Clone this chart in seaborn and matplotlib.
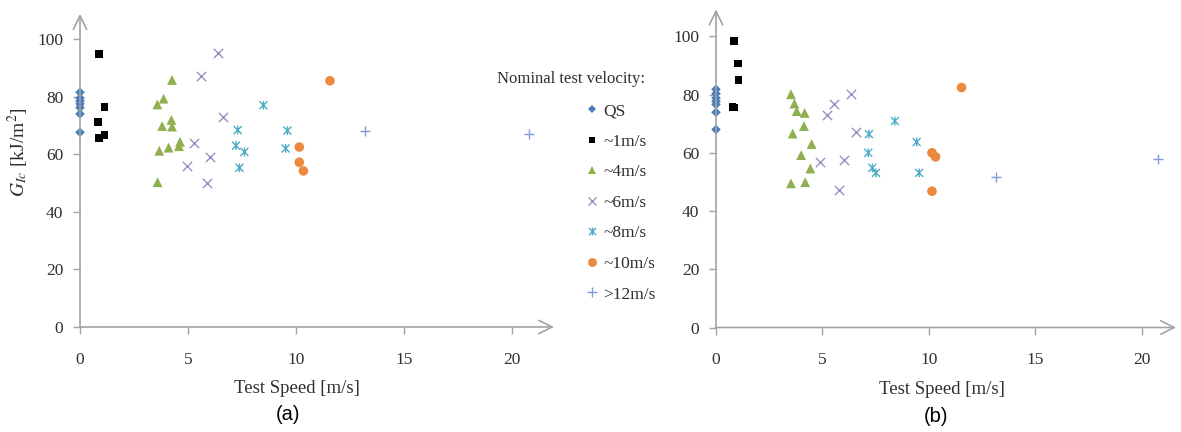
import matplotlib
matplotlib.use("Agg")
import matplotlib.pyplot as plt
from matplotlib.lines import Line2D
from matplotlib.path import Path
import seaborn as sns
import pandas as pd

# ---- data: (a) ----
qs_a_x = [0, 0, 0, 0, 0, 0, 0]
qs_a_y = [81.5, 79.5, 78.5, 77.5, 76.2, 74.0, 67.6]
v1_a_x = [0.88, 1.13, 0.82, 0.89, 1.13]
v1_a_y = [94.8, 76.5, 71.2, 65.7, 66.7]
v4_a_x = [4.26, 3.87, 3.58, 4.23, 4.26, 3.80, 4.63, 4.58, 4.10, 3.67, 3.59]
v4_a_y = [85.8, 79.3, 77.3, 71.9, 69.6, 69.8, 64.3, 62.8, 62.3, 61.2, 50.3]
v6_a_x = [6.40, 5.60, 6.63, 5.26, 6.02, 4.94, 5.86]
v6_a_y = [95.0, 87.2, 72.8, 63.8, 59.1, 55.9, 50.1]
v8_a_x = [8.49, 7.30, 9.60, 7.22, 7.61, 9.52, 7.38]
v8_a_y = [77.0, 68.4, 68.2, 63.0, 60.8, 62.0, 55.3]
v10_a_x = [11.57, 10.15, 10.15, 10.34]
v10_a_y = [85.5, 62.5, 57.2, 54.2]
v12_a_x = [13.19, 20.80]
v12_a_y = [68.1, 67.0]

# ---- data: (b) ----
qs_b_x = [0, 0, 0, 0, 0, 0, 0]
qs_b_y = [81.8, 80.3, 78.8, 77.7, 76.6, 73.9, 68.0]
v1_b_x = [0.85, 1.03, 1.06, 0.78, 0.85]
v1_b_y = [98.4, 90.6, 84.9, 75.8, 75.5]
v4_b_x = [3.52, 3.68, 3.79, 4.16, 4.13, 3.60, 4.49, 4.00, 4.43, 3.52, 4.19]
v4_b_y = [80.1, 76.9, 74.3, 73.7, 69.2, 66.6, 63.0, 59.2, 54.6, 49.5, 49.9]
v6_b_x = [6.32, 5.54, 5.21, 6.56, 6.01, 4.88, 5.79]
v6_b_y = [80.3, 76.6, 73.0, 67.2, 57.5, 56.7, 47.2]
v8_b_x = [8.40, 7.18, 9.42, 7.15, 7.34, 7.51, 9.54]
v8_b_y = [70.9, 66.4, 63.7, 60.0, 54.8, 53.1, 53.1]
v10_b_x = [11.53, 10.14, 10.31, 10.14]
v10_b_y = [82.4, 60.0, 58.6, 46.8]
v12_b_x = [13.13, 20.74]
v12_b_y = [51.7, 57.7]

groups = ["QS", "~1m/s", "~4m/s", "~6m/s", "~8m/s", "~10m/s", ">12m/s"]
x_ticks = [0, 5, 10, 15, 20]
y_ticks = [0, 20, 40, 60, 80, 100]

panel_a = [(qs_a_x, qs_a_y), (v1_a_x, v1_a_y), (v4_a_x, v4_a_y), (v6_a_x, v6_a_y),
           (v8_a_x, v8_a_y), (v10_a_x, v10_a_y), (v12_a_x, v12_a_y)]
panel_b = [(qs_b_x, qs_b_y), (v1_b_x, v1_b_y), (v4_b_x, v4_b_y), (v6_b_x, v6_b_y),
           (v8_b_x, v8_b_y), (v10_b_x, v10_b_y), (v12_b_x, v12_b_y)]

# asterisk marker: an X crossed by a vertical bar
star_path = Path(
    [(-1, -1), (1, 1), (-1, 1), (1, -1), (0, -1.1), (0, 1.1)],
    [Path.MOVETO, Path.LINETO, Path.MOVETO, Path.LINETO, Path.MOVETO, Path.LINETO],
)

# marker styles per group (s = scatter area, ms = legend marker size)
# kind: "fill" = solid shape, "line" = built-in line marker, "path" = custom outline
styles = {
    "QS":     dict(marker="D", color="#4a7ebb", s=24, ms=4.2, kind="fill", lw=0),
    "~1m/s":  dict(marker="s", color="#000000", s=30, ms=4.8, kind="fill", lw=0),
    "~4m/s":  dict(marker="^", color="#8fb04e", s=50, ms=6.0, kind="fill", lw=0),
    "~6m/s":  dict(marker="x", color="#a08cc2", s=45, ms=6.0, kind="line", lw=1.0),
    "~8m/s":  dict(marker=star_path, color="#4bacc6", s=40, ms=5.6, kind="path", lw=1.0),
    "~10m/s": dict(marker="o", color="#eb8a3e", s=48, ms=6.4, kind="fill", lw=0),
    ">12m/s": dict(marker="+", color="#7f9ed4", s=55, ms=6.5, kind="line", lw=1.0),
}

sns.set_theme(style="white")
plt.rcParams["font.family"] = ["Liberation Serif", "DejaVu Serif"]
plt.rcParams["mathtext.fontset"] = "stix"

fig = plt.figure(figsize=(11.81, 4.32), dpi=100)
ax_a = fig.add_axes([80 / 1181, 105 / 432, 474 / 1181, 313 / 432])
ax_b = fig.add_axes([716 / 1181, 104.5 / 432, 460 / 1181, 318 / 432])

axis_col = "#a3a3a3"
text_col = "#303030"


def draw_panel(ax, data, xmax, ymax):
    for name, (xs, ys) in zip(groups, data):
        st = styles[name]
        df = pd.DataFrame({"x": xs, "y": ys})
        if st["kind"] == "fill":
            sns.scatterplot(data=df, x="x", y="y", ax=ax, marker=st["marker"],
                            color=st["color"], s=st["s"], linewidth=0,
                            edgecolor="none", clip_on=False, zorder=3)
        elif st["kind"] == "line":
            sns.scatterplot(data=df, x="x", y="y", ax=ax, marker=st["marker"],
                            color=st["color"], s=st["s"], linewidth=st["lw"],
                            clip_on=False, zorder=3)
        else:
            sns.scatterplot(data=df, x="x", y="y", ax=ax, marker=st["marker"],
                            s=st["s"], linewidth=st["lw"], edgecolor=st["color"],
                            facecolor="none", clip_on=False, zorder=3)
    ax.set_xlim(0, xmax)
    ax.set_ylim(0, ymax)
    ax.set_xticks(x_ticks)
    ax.set_yticks(y_ticks)
    for sp in ax.spines.values():
        sp.set_visible(False)
    ax.tick_params(axis="both", direction="out", length=5, width=1,
                   color=axis_col, labelcolor=text_col, labelsize=12.5,
                   left=True, bottom=True)
    ax.tick_params(axis="x", pad=13)
    ax.tick_params(axis="y", pad=7)
    arrow = dict(arrowstyle="->,head_length=0.8,head_width=0.4",
                 color=axis_col, lw=1.2, shrinkA=0, shrinkB=0)
    ax.annotate("", xy=(1, 0), xytext=(0, 0), xycoords="axes fraction",
                textcoords="axes fraction", arrowprops=arrow, annotation_clip=False)
    ax.annotate("", xy=(0, 1), xytext=(0, 0), xycoords="axes fraction",
                textcoords="axes fraction", arrowprops=arrow, annotation_clip=False)
    ax.set_xlabel("Test Speed [m/s]", fontsize=13.5, color=text_col)
    ax.set_ylabel("")


draw_panel(ax_a, panel_a, 21.94, 108.7)
draw_panel(ax_b, panel_b, 21.6, 109.2)

ax_a.xaxis.set_label_coords((297 - 80) / 474, -0.169)
ax_b.xaxis.set_label_coords((942 - 716) / 460, -0.168)
ax_a.set_ylabel(r"$G_{Ic}$ [kJ/m$^2$]", fontsize=14, color=text_col)
ax_a.yaxis.set_label_coords((31 - 80) / 474, 0.56)

# legend
handles = []
for name in groups:
    st = styles[name]
    if st["kind"] == "fill":
        h = Line2D([], [], linestyle="none", marker=st["marker"], color=st["color"],
                   markersize=st["ms"], markeredgewidth=0)
    else:
        h = Line2D([], [], linestyle="none", marker=st["marker"], color=st["color"],
                   markerfacecolor="none", markeredgecolor=st["color"],
                   markersize=st["ms"], markeredgewidth=st["lw"])
    handles.append(h)

fig.legend(handles, groups, loc="upper left",
           bbox_to_anchor=(584 / 1181, 1 - 103 / 432), frameon=False,
           fontsize=12.5, handlelength=0.95, handletextpad=0.15,
           labelspacing=0.83, borderpad=0, borderaxespad=0,
           labelcolor=text_col)
fig.text(497 / 1181, 1 - 79 / 432, "Nominal test velocity:", fontsize=12,
         ha="left", va="center", color=text_col)

fig.text(288 / 1181, 1 - 415 / 432, "(a)", fontsize=14.5, ha="center", va="center",
         family=["Liberation Sans", "DejaVu Sans"], color="#000000")
fig.text(936 / 1181, 1 - 417 / 432, "(b)", fontsize=14.5, ha="center", va="center",
         family=["Liberation Sans", "DejaVu Sans"], color="#000000")

fig.savefig("out.png", dpi=100, facecolor="white")
